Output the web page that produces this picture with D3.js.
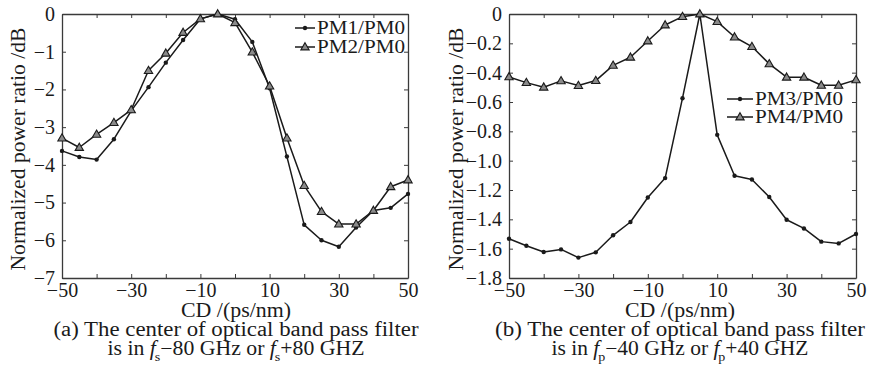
<!DOCTYPE html>
<html>
<head>
<meta charset="utf-8">
<script src="https://cdn.jsdelivr.net/npm/d3@7"></script>
<style>
  body { margin: 0; background: #fff; }
</style>
</head>
<body>
<svg id="chart" width="878" height="368"></svg>
<script>
// CD values (ps/nm), shared by both panels
const cd = [-50, -45, -40, -35, -30, -25, -20, -15, -10, -5, 0, 5, 10, 15, 20, 25, 30, 35, 40, 45, 50];

// panel (a)
const pm1 = [-3.63, -3.79, -3.86, -3.32, -2.57, -1.94, -1.29, -0.69, -0.13, 0, -0.14, -0.74, -1.97, -3.78, -5.59, -6.0, -6.17, -5.66, -5.21, -5.14, -4.77];
const pm2 = [-3.29, -3.54, -3.19, -2.88, -2.54, -1.50, -1.04, -0.49, -0.13, 0, -0.23, -1.01, -1.91, -3.29, -4.55, -5.24, -5.57, -5.57, -5.21, -4.58, -4.40];

// panel (b)
const pm3 = [-1.532, -1.58, -1.623, -1.605, -1.661, -1.625, -1.509, -1.418, -1.251, -1.119, -0.574, 0, -0.824, -1.103, -1.128, -1.248, -1.403, -1.462, -1.552, -1.564, -1.50];
const pm4 = [-0.429, -0.468, -0.499, -0.456, -0.488, -0.454, -0.35, -0.295, -0.184, -0.075, -0.018, 0, -0.052, -0.157, -0.222, -0.340, -0.431, -0.431, -0.486, -0.486, -0.449];

const xTicks = [-50, -40, -30, -20, -10, 0, 10, 20, 30, 40, 50];
const xLabels = [-50, -30, -10, 10, 30, 50];
const yTicksA = [0, -1, -2, -3, -4, -5, -6, -7];
const yTicksB = [0, -0.2, -0.4, -0.6, -0.8, -1.0, -1.2, -1.4, -1.6, -1.8];

const svg = d3.select('#chart');
const ink = '#1a1a1a';
const frame = '#3a3a3a';
const font = 'Liberation Serif';
const fmtMinus = s => s.replace('-', '\u2212');

function drawPanel(opt) {
  const x = d3.scaleLinear().domain([-50, 50]).range([opt.left, opt.right]);
  const y = d3.scaleLinear().domain(opt.yDomain).range([278, 14]);
  const g = svg.append('g');

  // frame with inward ticks
  const bottom = d3.axisBottom(x).tickValues(xTicks).tickSizeInner(-4).tickSizeOuter(0).tickPadding(5)
    .tickFormat(d => xLabels.includes(d) ? fmtMinus(String(d)) : '');
  const top = d3.axisTop(x).tickValues(xTicks).tickSizeInner(-4).tickSizeOuter(0).tickFormat('');
  const left = d3.axisLeft(y).tickValues(opt.yTicks).tickSizeInner(-4).tickSizeOuter(0).tickPadding(7)
    .tickFormat(opt.yFormat);
  const right = d3.axisRight(y).tickValues(opt.yTicks).tickSizeInner(-4).tickSizeOuter(0).tickFormat('');

  g.append('g').attr('transform', 'translate(0,278)').call(bottom);
  g.append('g').attr('transform', 'translate(0,14)').call(top);
  g.append('g').attr('transform', `translate(${opt.left},0)`).call(left);
  g.append('g').attr('transform', `translate(${opt.right},0)`).call(right);
  g.selectAll('.domain').attr('stroke', frame).attr('stroke-width', 1.3);
  g.selectAll('.tick line').attr('stroke', frame).attr('stroke-width', 1);
  g.selectAll('.tick text').attr('fill', ink).attr('font-size', 20);

  const line = d3.line().x((d, i) => x(cd[i])).y(d => y(d));

  opt.series.forEach(s => {
    g.append('path').datum(s.values)
      .attr('fill', 'none').attr('stroke', ink).attr('stroke-width', 1.5)
      .attr('stroke-linejoin', 'round').attr('d', line);
    drawMarkers(g, s.values.map((v, i) => [x(cd[i]), y(v)]), s.marker);
  });

  // y title
  g.append('text')
    .attr('transform', `translate(${opt.titleX + 7},${(14 + 278) / 2 + 3}) rotate(-90)`)
    .attr('text-anchor', 'middle').attr('font-size', 20).attr('fill', ink)
    .attr('textLength', 243).attr('lengthAdjust', 'spacingAndGlyphs')
    .text('Normalized power ratio /dB');

  // x title
  g.append('text').attr('x', opt.center).attr('y', 317)
    .attr('text-anchor', 'middle').attr('font-size', 20).attr('fill', ink)
    .attr('textLength', 110).attr('lengthAdjust', 'spacingAndGlyphs')
    .text('CD /(ps/nm)');

  // caption
  g.append('text').attr('x', opt.center).attr('y', 336)
    .attr('text-anchor', 'middle').attr('font-size', 20).attr('fill', ink)
    .attr('textLength', opt.capW).attr('lengthAdjust', 'spacingAndGlyphs')
    .text(opt.cap1);
  const c2 = g.append('text').attr('x', opt.center).attr('y', 355)
    .attr('text-anchor', 'middle').attr('font-size', 20).attr('fill', ink)
    .attr('textLength', 257).attr('lengthAdjust', 'spacingAndGlyphs');
  opt.cap2.forEach(p => {
    const t = c2.append('tspan').text(p.t).attr('fill', ink);
    if (p.it) t.attr('font-style', 'italic');
    if (p.sub) t.attr('font-size', 13).attr('dy', 6).attr('dx', -1);
    if (p.up) t.attr('dy', -6);
  });

  // legend
  opt.series.forEach((s, i) => {
    const ly = opt.legend.y + i * opt.legend.dy;
    g.append('line').attr('x1', opt.legend.x0).attr('x2', opt.legend.x1)
      .attr('y1', ly).attr('y2', ly).attr('stroke', ink).attr('stroke-width', 1.5);
    drawMarkers(g, [[(opt.legend.x0 + opt.legend.x1) / 2, ly]], s.marker);
    g.append('text').attr('x', opt.legend.x1 + 2).attr('y', ly + 6)
      .attr('font-size', 19).attr('fill', ink)
      .attr('textLength', 88).attr('lengthAdjust', 'spacingAndGlyphs')
      .text(s.name);
  });
}

function drawMarkers(g, pts, kind) {
  if (kind === 'dot') {
    g.selectAll(null).data(pts).join('circle')
      .attr('cx', d => d[0]).attr('cy', d => d[1]).attr('r', 2.2).attr('fill', ink);
  } else {
    g.selectAll(null).data(pts).join('path')
      .attr('transform', d => `translate(${d[0]},${d[1] + 0.5})`)
      .attr('d', d3.symbol(d3.symbolTriangle, 30))
      .attr('fill', '#8a8a8a').attr('stroke', ink).attr('stroke-width', 1.1);
  }
}

drawPanel({
  left: 62, right: 408, center: 236, titleX: 18,
  yDomain: [-7, 0], yTicks: yTicksA,
  yFormat: d => fmtMinus(String(d)),
  series: [
    { name: 'PM1/PM0', values: pm1, marker: 'dot' },
    { name: 'PM2/PM0', values: pm2, marker: 'tri' }
  ],
  legend: { x0: 295, x1: 315, y: 28, dy: 19 },
  capW: 365,
  cap1: '(a) The center of optical band pass filter',
  cap2: [{ t: 'is in ' }, { t: 'f', it: true }, { t: 's', sub: true }, { t: '\u221280 GHz or ', up: true },
         { t: 'f', it: true }, { t: 's', sub: true }, { t: '+80 GHZ', up: true }]
});

drawPanel({
  left: 509, right: 856, center: 680, titleX: 456,
  yDomain: [-1.8, 0], yTicks: yTicksB,
  yFormat: d => d === 0 ? '0' : fmtMinus(d3.format('.1f')(d)),
  series: [
    { name: 'PM3/PM0', values: pm3, marker: 'dot' },
    { name: 'PM4/PM0', values: pm4, marker: 'tri' }
  ],
  legend: { x0: 727, x1: 753, y: 99, dy: 18 },
  capW: 370,
  cap1: '(b) The center of optical band pass filter',
  cap2: [{ t: 'is in ' }, { t: 'f', it: true }, { t: 'p', sub: true }, { t: '\u221240 GHz or ', up: true },
         { t: 'f', it: true }, { t: 'p', sub: true }, { t: '+40 GHZ', up: true }]
});

// every text in the serif face, set on the element itself
svg.selectAll('text, tspan').attr('font-family', font);
svg.selectAll('g').attr('font-family', font);
</script>
</body>
</html>
